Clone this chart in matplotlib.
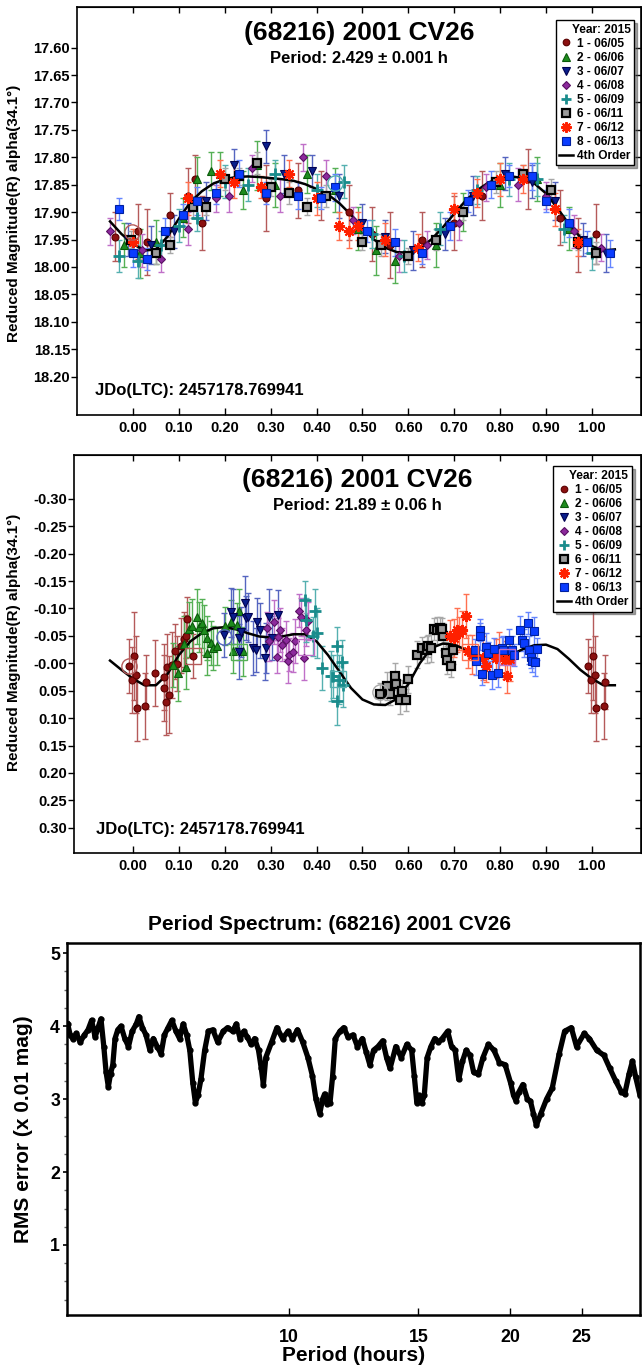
import numpy as np
import matplotlib
matplotlib.use('Agg')
import matplotlib.pyplot as plt
from matplotlib.lines import Line2D
from matplotlib.ticker import FixedLocator, NullLocator, MultipleLocator, FormatStrFormatter, FixedFormatter

plt.rcParams['font.family'] = ['Liberation Sans', 'DejaVu Sans']
plt.rcParams['font.weight'] = 'bold'
plt.rcParams['axes.labelweight'] = 'bold'

# sessions (same for both lightcurves)
sess_labels = ['1 - 06/05', '2 - 06/06', '3 - 06/07', '4 - 06/08',
               '5 - 06/09', '6 - 06/11', '7 - 06/12', '8 - 06/13']
sess_marker = ['o', '^', 'v', 'D', '+', 's', (8, 2, 0), 's']
sess_face = ['#8b1010', '#1e8c1e', '#0a1e8c', '#8c2a9c', '#1a8c8c', '#9a9a9a', '#ff2000', '#0a3cff']
sess_edge = ['#5a0000', '#0a5a0a', '#000050', '#5a1064', '#1a8c8c', '#000000', '#ff2000', '#0020a0']
sess_errc = ['#b55a5a', '#55b055', '#5565c0', '#c070c8', '#55b0b0', '#a8a8a8', '#ff7050', '#6585ff']
sess_size = [5, 5.5, 5.5, 4.5, 8, 6, 8, 6]
sess_mew = [0.8, 0.8, 0.8, 0.8, 2.0, 1.6, 1.5, 0.8]

# ---- top lightcurve, P = 2.429 h
p1_phase = [
    [-0.04, 0.01, 0.03, 0.08, 0.12, 0.135, 0.15, 0.29, 0.36, 0.41, 0.47, 0.52, 0.56, 0.63, 0.70, 0.76, 0.86, 0.93, 0.97, 1.01],
    [-0.02, 0.015, 0.05, 0.11, 0.14, 0.17, 0.19, 0.24, 0.27, 0.31, 0.38, 0.44, 0.49, 0.53, 0.57, 0.66, 0.72, 0.80, 0.88, 0.95],
    [-0.01, 0.04, 0.09, 0.16, 0.22, 0.29, 0.33, 0.39, 0.45, 0.50, 0.55, 0.61, 0.68, 0.74, 0.81, 0.87, 0.92, 0.98, 1.03],
    [-0.05, 0.02, 0.06, 0.12, 0.18, 0.21, 0.26, 0.32, 0.37, 0.42, 0.48, 0.58, 0.64, 0.71, 0.77, 0.84, 0.90, 0.96, 1.02],
    [-0.03, 0.01, 0.06, 0.10, 0.14, 0.20, 0.25, 0.31, 0.40, 0.46, 0.52, 0.59, 0.67, 0.75, 0.82, 0.88, 0.94, 1.00],
    [-0.005, 0.05, 0.08, 0.13, 0.16, 0.20, 0.23, 0.27, 0.30, 0.34, 0.38, 0.42, 0.50, 0.54, 0.60, 0.66, 0.72, 0.79, 0.85, 0.91, 0.97, 1.01],
    [0.0, 0.12, 0.19, 0.22, 0.28, 0.34, 0.40, 0.45, 0.47, 0.49, 0.55, 0.62, 0.70, 0.75, 0.80, 0.85, 0.92, 0.97],
    [-0.03, 0.0, 0.03, 0.07, 0.11, 0.14, 0.18, 0.23, 0.29, 0.36, 0.41, 0.44, 0.51, 0.57, 0.63, 0.69, 0.73, 0.78, 0.82, 0.87, 0.90, 0.95, 0.99, 1.04],
]
p1_mag = [
    [17.945, 17.935, 17.955, 17.905, 17.87, 17.84, 17.92, 17.875, 17.86, 17.87, 17.90, 17.94, 17.96, 17.95, 17.92, 17.87, 17.84, 17.91, 17.96, 17.94],
    [17.96, 17.975, 17.955, 17.91, 17.84, 17.825, 17.83, 17.86, 17.815, 17.85, 17.83, 17.86, 17.93, 17.97, 17.99, 17.96, 17.90, 17.85, 17.84, 17.93],
    [17.95, 17.96, 17.935, 17.88, 17.815, 17.78, 17.83, 17.825, 17.87, 17.92, 17.945, 17.97, 17.94, 17.87, 17.83, 17.845, 17.88, 17.95, 17.975],
    [17.935, 17.97, 17.985, 17.93, 17.875, 17.87, 17.82, 17.87, 17.80, 17.835, 17.915, 17.98, 17.96, 17.92, 17.855, 17.85, 17.87, 17.935, 17.965],
    [17.98, 17.99, 17.96, 17.925, 17.91, 17.845, 17.85, 17.83, 17.86, 17.845, 17.94, 17.98, 17.93, 17.86, 17.84, 17.84, 17.93, 17.975],
    [17.95, 17.975, 17.96, 17.89, 17.89, 17.84, 17.835, 17.81, 17.855, 17.865, 17.89, 17.87, 17.955, 17.96, 17.98, 17.95, 17.90, 17.845, 17.83, 17.86, 17.955, 17.975],
    [17.955, 17.875, 17.83, 17.845, 17.855, 17.83, 17.875, 17.925, 17.935, 17.925, 17.95, 17.965, 17.895, 17.865, 17.84, 17.84, 17.895, 17.955],
    [17.895, 17.975, 17.985, 17.935, 17.905, 17.88, 17.865, 17.83, 17.865, 17.87, 17.875, 17.855, 17.935, 17.955, 17.975, 17.925, 17.88, 17.85, 17.835, 17.835, 17.88, 17.92, 17.955, 17.975],
]
p1_err = [
    [0.045, 0.05, 0.06, 0.04, 0.05, 0.045, 0.05, 0.06, 0.05, 0.045, 0.05, 0.05, 0.06, 0.05, 0.05, 0.045, 0.055, 0.05, 0.05, 0.055],
    [0.04, 0.045, 0.04, 0.035, 0.04, 0.035, 0.04, 0.035, 0.045, 0.04, 0.035, 0.04, 0.04, 0.045, 0.04, 0.04, 0.035, 0.04, 0.04, 0.04],
    [0.03, 0.035, 0.03, 0.035, 0.03, 0.03, 0.035, 0.03, 0.04, 0.035, 0.03, 0.035, 0.03, 0.035, 0.03, 0.03, 0.035, 0.03, 0.035],
    [0.025, 0.03, 0.025, 0.03, 0.025, 0.03, 0.025, 0.03, 0.025, 0.03, 0.025, 0.03, 0.025, 0.03, 0.025, 0.03, 0.025, 0.03, 0.025],
    [0.03, 0.03, 0.025, 0.03, 0.025, 0.03, 0.03, 0.025, 0.03, 0.03, 0.025, 0.03, 0.03, 0.025, 0.03, 0.03, 0.025, 0.03],
    [0.015, 0.02, 0.015, 0.02, 0.015, 0.02, 0.015, 0.02, 0.015, 0.02, 0.015, 0.02, 0.015, 0.02, 0.015, 0.02, 0.015, 0.02, 0.015, 0.02, 0.015, 0.02],
    [0.025, 0.03, 0.025, 0.03, 0.02, 0.025, 0.03, 0.025, 0.03, 0.025, 0.03, 0.025, 0.03, 0.025, 0.03, 0.025, 0.03, 0.025],
    [0.02, 0.025, 0.02, 0.025, 0.02, 0.025, 0.02, 0.025, 0.02, 0.025, 0.02, 0.025, 0.02, 0.025, 0.02, 0.025, 0.02, 0.025, 0.02, 0.025, 0.02, 0.025, 0.02, 0.025],
]
p1_fit_phase = [-0.05, -0.025, 0.0, 0.025, 0.05, 0.075, 0.1, 0.125, 0.15, 0.175, 0.2, 0.225, 0.25, 0.275, 0.3,
                0.325, 0.35, 0.375, 0.4, 0.425, 0.45, 0.475, 0.5, 0.525, 0.55, 0.575, 0.6, 0.625, 0.65, 0.675,
                0.7, 0.725, 0.75, 0.775, 0.8, 0.825, 0.85, 0.875, 0.9, 0.925, 0.95, 0.975, 1.0, 1.025, 1.05]
p1_fit_mag = [17.917, 17.940, 17.958, 17.970, 17.968, 17.945, 17.912, 17.882, 17.862, 17.848, 17.840, 17.836,
              17.835, 17.836, 17.838, 17.840, 17.843, 17.849, 17.858, 17.868, 17.884, 17.905, 17.928, 17.950,
              17.965, 17.973, 17.974, 17.966, 17.950, 17.928, 17.903, 17.879, 17.860, 17.846, 17.838, 17.835,
              17.838, 17.848, 17.866, 17.893, 17.922, 17.946, 17.962, 17.970, 17.968]
# open rings marking reference points
p1_ring_phase = [-0.003, 0.44]
p1_ring_mag = [17.936, 17.847]
p1_ring_sess = [0, 4]

# ---- middle lightcurve, P = 21.89 h
p2_phase = [
    [-0.008, 0.002, -0.003, 0.007, 0.009, 0.028, 0.026, 0.049, 0.068, 0.068, 0.079, 0.073, 0.075, 0.084, 0.092, 0.097, 0.104, 0.111, 0.115, 0.118, 0.131],
    [0.088, 0.099, 0.115, 0.111, 0.123, 0.128, 0.139, 0.144, 0.150, 0.155, 0.161, 0.162, 0.171, 0.175, 0.184, 0.200, 0.213, 0.230, 0.239, 0.219, 0.226],
    [0.198, 0.213, 0.219, 0.230, 0.235, 0.244, 0.246, 0.250, 0.261, 0.268, 0.271, 0.276, 0.288, 0.290, 0.296, 0.302, 0.317, 0.232],
    [0.291, 0.296, 0.307, 0.313, 0.317, 0.320, 0.325, 0.334, 0.338, 0.341, 0.348, 0.353, 0.362, 0.367, 0.373, 0.376, 0.382],
    [0.375, 0.378, 0.397, 0.400, 0.393, 0.411, 0.431, 0.436, 0.445, 0.449, 0.455, 0.445, 0.458],
    [0.538, 0.553, 0.559, 0.571, 0.574, 0.582, 0.596, 0.600, 0.586, 0.618, 0.629, 0.641, 0.642, 0.649, 0.656, 0.663, 0.670, 0.676, 0.683, 0.685, 0.694, 0.698, 0.673],
    [0.691, 0.699, 0.705, 0.711, 0.716, 0.725, 0.731, 0.738, 0.763, 0.770, 0.791, 0.798, 0.814, 0.810, 0.821],
    [0.756, 0.756, 0.745, 0.748, 0.760, 0.770, 0.774, 0.782, 0.787, 0.796, 0.804, 0.807, 0.819, 0.826, 0.830, 0.843, 0.847, 0.852, 0.861, 0.864, 0.867, 0.874, 0.870, 0.877, 0.880],
]
p2_mag = [
    [0.005, -0.014, 0.030, 0.021, 0.082, 0.034, 0.078, 0.018, 0.025, 0.045, 0.057, 0.071, 0.006, 0.003, -0.022, 0.001, -0.032, -0.044, -0.049, -0.081, -0.014],
    [0.003, 0.018, 0.007, -0.036, -0.062, -0.068, -0.085, -0.066, -0.073, -0.061, -0.046, -0.019, -0.037, -0.028, -0.032, -0.068, -0.076, -0.095, -0.022, -0.022, -0.070],
    [-0.052, -0.093, -0.085, -0.046, -0.057, -0.110, -0.083, -0.084, -0.028, -0.025, -0.075, -0.060, -0.009, -0.028, -0.085, -0.046, -0.088, -0.021],
    [-0.064, -0.040, -0.076, -0.012, -0.048, -0.060, -0.034, -0.043, -0.005, -0.016, -0.020, -0.041, -0.096, -0.085, -0.009, -0.061, -0.077],
    [-0.115, -0.079, -0.095, -0.055, -0.049, 0.009, 0.023, 0.024, -0.031, 0.030, -0.003, 0.068, 0.040],
    [0.056, 0.041, 0.056, 0.024, 0.037, 0.067, 0.067, 0.029, 0.051, -0.016, -0.028, -0.025, -0.032, -0.028, -0.062, -0.060, -0.064, -0.049, -0.019, -0.006, 0.005, -0.024, -0.062],
    [-0.049, -0.046, -0.060, -0.055, -0.060, -0.087, -0.022, -0.016, -0.010, 0.004, -0.009, -0.017, 0.024, -0.006, -0.008],
    [-0.061, -0.049, -0.025, -0.004, 0.019, -0.030, -0.018, 0.021, -0.026, 0.018, -0.028, -0.024, -0.043, -0.024, -0.016, -0.061, -0.043, -0.037, -0.073, -0.024, -0.012, -0.059, -0.005, -0.002, -0.026],
]
p2_err = [
    [0.05, 0.08, 0.06, 0.07, 0.06, 0.05, 0.06, 0.06, 0.06, 0.06, 0.07, 0.06, 0.06, 0.06, 0.05, 0.05, 0.05, 0.05, 0.04, 0.04, 0.04],
    [0.04, 0.05, 0.04, 0.05, 0.05, 0.05, 0.05, 0.045, 0.045, 0.045, 0.04, 0.04, 0.04, 0.04, 0.035, 0.035, 0.04, 0.04, 0.045, 0.04, 0.04],
    [0.04, 0.045, 0.05, 0.04, 0.045, 0.05, 0.04, 0.045, 0.05, 0.04, 0.045, 0.05, 0.04, 0.045, 0.05, 0.04, 0.045, 0.05],
    [0.03, 0.035, 0.04, 0.03, 0.035, 0.04, 0.03, 0.035, 0.04, 0.03, 0.035, 0.04, 0.03, 0.035, 0.04, 0.03, 0.035],
    [0.035, 0.04, 0.04, 0.045, 0.035, 0.04, 0.045, 0.04, 0.035, 0.045, 0.04, 0.045, 0.04],
    [0.02, 0.025, 0.02, 0.025, 0.02, 0.025, 0.02, 0.025, 0.02, 0.025, 0.02, 0.025, 0.02, 0.025, 0.02, 0.025, 0.02, 0.025, 0.02, 0.025, 0.02, 0.025, 0.02],
    [0.03, 0.035, 0.04, 0.03, 0.035, 0.04, 0.03, 0.035, 0.04, 0.03, 0.035, 0.04, 0.03, 0.035, 0.04],
    [0.02, 0.025, 0.02, 0.025, 0.02, 0.025, 0.02, 0.025, 0.02, 0.025, 0.02, 0.025, 0.02, 0.025, 0.02, 0.025, 0.02, 0.025, 0.02, 0.025, 0.02, 0.025, 0.02, 0.025, 0.02],
]
p2_fit_phase = p1_fit_phase
p2_fit_mag = [-0.005, 0.012, 0.028, 0.040, 0.040, 0.020, -0.015, -0.040, -0.055, -0.064, -0.066, -0.062,
              -0.055, -0.049, -0.047, -0.049, -0.053, -0.053, -0.040, -0.015, 0.015, 0.045, 0.066, 0.075,
              0.076, 0.065, 0.038, 0.000, -0.028, -0.036, -0.034, -0.025, -0.016, -0.010, -0.010, -0.016,
              -0.026, -0.033, -0.034, -0.026, -0.008, 0.012, 0.028, 0.040, 0.040]
p2_ring_phase = [-0.008, 0.198, 0.538]
p2_ring_mag = [0.005, -0.048, 0.052]
p2_ring_sess = [0, 2, 5]
p2_box_phase = [0.131, 0.232, 0.378, 0.446, 0.735, 0.815]
p2_box_mag = [-0.014, -0.021, -0.030, 0.028, -0.020, -0.012]
p2_box_sess = [0, 1, 3, 4, 6, 3]

# ---- period spectrum
spec_period = [5.01, 5.05, 5.09, 5.15, 5.21, 5.28, 5.34, 5.40, 5.46, 5.51, 5.56, 5.61, 5.65, 5.69, 5.73, 5.77,
               5.81, 5.86, 5.92, 5.99, 6.06, 6.13, 6.21, 6.26, 6.33, 6.40, 6.48, 6.55, 6.63, 6.71, 6.78, 6.86,
               6.94, 7.03, 7.11, 7.19, 7.27, 7.34, 7.41, 7.47, 7.53, 7.60, 7.69, 7.78, 7.89, 8.01, 8.15, 8.26,
               8.39, 8.49, 8.59, 8.69, 8.79, 8.89, 8.99, 9.10, 9.18, 9.24, 9.31, 9.48, 9.64, 9.81, 9.98, 10.12,
               10.28, 10.45, 10.62, 10.77, 10.89, 11.02, 11.12, 11.19, 11.28, 11.38, 11.47, 11.57, 11.74, 11.88,
               12.04, 12.23, 12.40, 12.59, 12.74, 12.89, 13.04, 13.22, 13.42, 13.58, 13.73, 13.98, 14.22, 14.47,
               14.69, 14.81, 14.93, 15.03, 15.16, 15.28, 15.42, 15.60, 15.79, 15.97, 16.16, 16.44, 16.64, 16.83,
               17.02, 17.22, 17.42, 17.63, 17.83, 18.10, 18.36, 18.67, 19.00, 19.33, 19.68, 20.02, 20.20, 20.35,
               20.55, 20.80, 21.10, 21.30, 21.50, 21.70, 22.00, 22.40, 22.80, 23.30, 23.70, 24.20, 24.60, 25.20,
               25.60, 26.20, 26.80, 27.30, 27.80, 28.30, 28.60, 29.00, 29.30, 29.60, 30.00]
spec_rms = [4.03, 3.88, 3.83, 3.90, 3.78, 3.88, 3.95, 4.08, 3.85, 3.98, 4.10, 3.72, 3.37, 3.17, 3.35, 3.47,
            3.83, 3.95, 4.00, 3.83, 3.72, 3.93, 4.03, 4.13, 3.98, 3.88, 3.67, 3.83, 3.72, 3.62, 3.88, 3.98,
            4.08, 3.93, 3.83, 4.03, 3.88, 3.67, 3.22, 2.95, 3.05, 3.27, 3.67, 3.93, 3.95, 3.78, 3.93, 3.98,
            3.93, 4.03, 3.83, 3.93, 3.85, 3.75, 3.83, 3.67, 3.42, 3.20, 3.57, 3.78, 3.98, 3.83, 3.93, 3.83,
            3.95, 3.78, 3.57, 3.32, 3.00, 2.80, 3.00, 3.07, 2.93, 2.95, 3.30, 3.83, 3.93, 3.98,
            3.85, 3.88, 3.72, 3.83, 3.65, 3.47, 3.67, 3.72, 3.80, 3.57, 3.42, 3.72, 3.57, 3.75,
            3.67, 3.32, 2.95, 3.05, 2.95, 3.05, 3.57, 3.72, 3.83, 3.78, 3.83, 3.93, 3.72, 3.67,
            3.27, 3.52, 3.67, 3.60, 3.37, 3.34, 3.57, 3.75, 3.67, 3.50, 3.47, 3.22, 3.05, 2.98,
            3.10, 3.20, 3.00, 2.97, 2.80, 2.64, 2.80, 3.00, 3.15, 3.62, 3.93, 3.98, 3.72, 3.90,
            3.83, 3.67, 3.60, 3.42, 3.25, 3.10, 3.07, 3.35, 3.52, 3.30, 3.05]


def draw_lc(ax, phases, mags, errs, fit_ph, fit_mag, wrap):
    for i in range(8):
        ph = np.array(phases[i])
        mg = np.array(mags[i])
        er = np.array(errs[i])
        if wrap:
            m = ph < 0.035
            ph = np.concatenate((ph, ph[m] + 1.0))
            mg = np.concatenate((mg, mg[m]))
            er = np.concatenate((er, er[m]))
        ax.errorbar(ph, mg, yerr=er, fmt='none', ecolor=sess_errc[i], elinewidth=1.0,
                    capsize=2.5, capthick=1.0, zorder=2)
        ax.plot(ph, mg, linestyle='none', marker=sess_marker[i], markersize=sess_size[i],
                markerfacecolor=sess_face[i], markeredgecolor=sess_edge[i],
                markeredgewidth=sess_mew[i], zorder=3 + i * 0.01)
    ax.plot(fit_ph, fit_mag, color='black', lw=1.8, zorder=2.5)

    handles = []
    for i in range(8):
        handles.append(Line2D([], [], linestyle='none', marker=sess_marker[i],
                              markersize=sess_size[i] * 0.95, markerfacecolor=sess_face[i],
                              markeredgecolor=sess_edge[i], markeredgewidth=sess_mew[i]))
    handles.append(Line2D([], [], color='black', lw=1.8))
    return handles


def draw_open(ax, ph, mg, sess, marker, size):
    for x, y, s in zip(ph, mg, sess):
        ax.plot([x], [y], linestyle='none', marker=marker, markersize=size, markerfacecolor='none',
                markeredgecolor=sess_errc[s], markeredgewidth=1.0, zorder=3.5)


def style_lc(ax, yticks, xl, yl):
    ax.set_xlim(xl)
    ax.set_ylim(yl)
    ax.set_xticks(np.arange(0, 1.001, 0.1))
    ax.set_yticks(yticks)
    ax.xaxis.set_major_formatter(FormatStrFormatter('%.2f'))
    ax.yaxis.set_major_formatter(FormatStrFormatter('%.2f'))
    ax.tick_params(axis='y', direction='out', length=4, width=1, labelsize=10.5, pad=1)
    ax.tick_params(axis='x', direction='in', length=5, width=1, labelsize=10.5, pad=4)
    for s in ax.spines.values():
        s.set_linewidth(1.2)
    sy = ax.secondary_yaxis('right')
    sy.set_yticks(yticks)
    sy.tick_params(direction='in', length=4, width=1, labelright=False)
    sx = ax.secondary_xaxis('top')
    sx.set_xticks(np.arange(0, 1.001, 0.1))
    sx.tick_params(direction='in', length=4, width=1, labeltop=False)
    ax.set_ylabel('Reduced Magnitude(R) alpha(34.1°)', fontsize=11)


def add_legend(ax, h, anchor):
    leg = ax.legend(h, sess_labels + ['4th Order'], loc='upper right', bbox_to_anchor=anchor,
                    borderaxespad=0, title='Year: 2015', alignment='right',
                    prop={'weight': 'bold', 'size': 8.6},
                    title_fontproperties={'weight': 'bold', 'size': 8.6},
                    frameon=True, fancybox=False, edgecolor='black', framealpha=1,
                    shadow={'color': '0.3'}, labelspacing=0.17, handlelength=1.2,
                    handletextpad=0.3, borderpad=0.3)
    leg.get_frame().set_linewidth(1.0)


fig = plt.figure(figsize=(6.42, 13.70), dpi=100)

# top panel
ax1 = fig.add_axes([77 / 642, 1 - 415 / 1370, (641 - 77) / 642, (415 - 7) / 1370])
h = draw_lc(ax1, p1_phase, p1_mag, p1_err, p1_fit_phase, p1_fit_mag, False)
draw_open(ax1, p1_ring_phase, p1_ring_mag, p1_ring_sess, 'o', 11)
style_lc(ax1, np.arange(17.60, 18.201, 0.05), (-0.122, 1.107), (18.27, 17.526))
ax1.yaxis.set_label_coords(-0.0998, 0.494)
ax1.text(0.50, 0.936, '(68216) 2001 CV26', transform=ax1.transAxes, ha='center', va='center',
         fontsize=19, fontweight='bold')
ax1.text(0.50, 0.873, 'Period: 2.429 ± 0.001 h', transform=ax1.transAxes, ha='center', va='center',
         fontsize=12, fontweight='bold')
ax1.text(0.032, 0.059, 'JDo(LTC): 2457178.769941', transform=ax1.transAxes, ha='left', va='center',
         fontsize=12, fontweight='bold')
add_legend(ax1, h, (0.9876, 0.968))

# middle panel
ax2 = fig.add_axes([74 / 642, 1 - 853 / 1370, (641 - 74) / 642, (853 - 455) / 1370])
h = draw_lc(ax2, p2_phase, p2_mag, p2_err, p2_fit_phase, p2_fit_mag, True)
draw_open(ax2, p2_ring_phase, p2_ring_mag, p2_ring_sess, 'o', 11)
draw_open(ax2, p2_box_phase, p2_box_mag, p2_box_sess, 's', 11)
style_lc(ax2, np.arange(-0.30, 0.301, 0.05), (-0.1285, 1.107), (0.346, -0.38))
ax2.yaxis.set_label_coords(-0.094, 0.528)
ax2.text(0.50, 0.936, '(68216) 2001 CV26', transform=ax2.transAxes, ha='center', va='center',
         fontsize=19, fontweight='bold')
ax2.text(0.50, 0.873, 'Period: 21.89 ± 0.06 h', transform=ax2.transAxes, ha='center', va='center',
         fontsize=12, fontweight='bold')
ax2.text(0.038, 0.06, 'JDo(LTC): 2457178.769941', transform=ax2.transAxes, ha='left', va='center',
         fontsize=12, fontweight='bold')
add_legend(ax2, h, (0.984, 0.972))

# period spectrum
ax3 = fig.add_axes([67 / 642, 1 - 1315 / 1370, (640 - 67) / 642, (1315 - 943) / 1370])
ax3.plot(spec_period, spec_rms, color='black', lw=3.8, marker='o', markersize=3.5,
         solid_joinstyle='round')
ax3.set_xscale('log')
ax3.set_xlim(5, 30)
ax3.set_ylim(0.04, 5.14)
ax3.xaxis.set_major_locator(FixedLocator([10, 15, 20, 25]))
ax3.xaxis.set_major_formatter(FixedFormatter(['10', '15', '20', '25']))
ax3.xaxis.set_minor_locator(NullLocator())
ax3.yaxis.set_major_locator(FixedLocator([1, 2, 3, 4, 5]))
ax3.yaxis.set_minor_locator(MultipleLocator(0.25))
ax3.tick_params(axis='y', which='major', direction='out', length=3, width=1.2, labelsize=12.8, pad=2)
ax3.tick_params(axis='y', which='minor', direction='out', length=2, width=1, color='0.4')
ax3.tick_params(axis='x', which='major', direction='in', length=5, width=1, labelsize=12.8, pad=10)
for s in ax3.spines.values():
    s.set_linewidth(1.8)
ax3.set_ylabel('RMS error (x 0.01 mag)', fontsize=15)
ax3.yaxis.set_label_coords(-0.059, 0.5)
ax3.set_xlabel('Period (hours)', fontsize=15)
ax3.xaxis.label.set_va('center')
ax3.xaxis.set_label_coords(0.5, -0.11)
fig.text(329 / 642, 1 - 924 / 1370, 'Period Spectrum: (68216) 2001 CV26', ha='center', va='center',
         fontsize=15, fontweight='bold')

fig.savefig('out.png', dpi=100)
